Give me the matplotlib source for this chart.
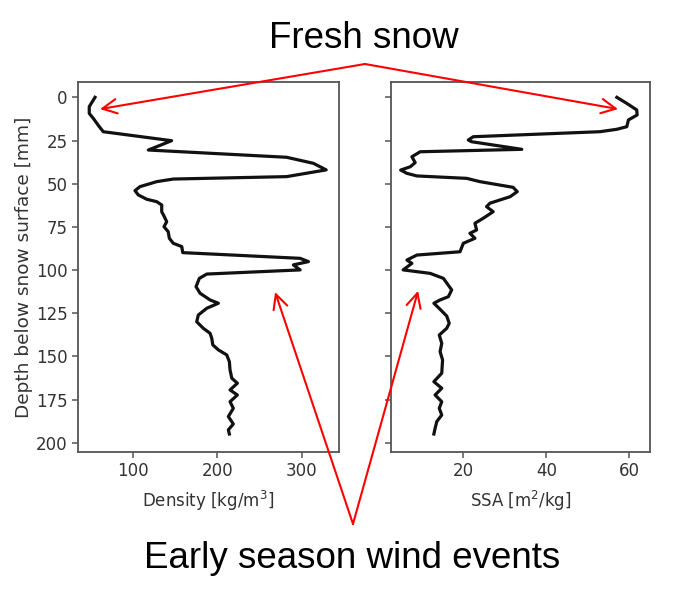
import matplotlib
matplotlib.use("Agg")
import matplotlib.pyplot as plt

# depth profiles
depth_rho = [0, 5.4, 9.3, 12.2, 17, 19.9, 25.1, 30.5, 34.7, 38.2, 42, 45.9, 47.3, 48.8,
             51.7, 54, 56.5, 59, 60.4, 62.3, 66.2, 69.1, 72, 74.9, 77.8, 81.6, 84.5, 86.4,
             89.9, 93.2, 95.1, 97.0, 99.9, 102.3, 104.8, 109.6, 113.4, 117.3, 119.2, 122.1,
             126, 129.9, 133.7, 136.6, 139.5, 143.3, 146.2, 149.1, 153, 157.8, 162.6, 165.5,
             169.4, 172.3, 176.2, 180, 184.8, 189.1, 192.5, 194.9]
density = [55.4, 48.6, 48.6, 53.4, 60.5, 65.2, 146, 118.5, 282, 313.7, 328.8, 282, 148, 128.4,
           108.6, 102.7, 106.6, 116.6, 128.4, 134.3, 134.3, 137.4, 140.2, 137, 142, 143.3, 148, 158,
           159.2, 298, 307.8, 290, 298, 187.6, 178.8, 174.9, 179.6, 191.5, 201.3, 187.6,
           177.6, 175.7, 183.5, 191.5, 193.5, 194.7, 201.3, 211.2, 214.3, 215.1, 217.2, 223.8,
           215.1, 223.8, 215.1, 219, 213.1, 219, 213.1, 214.3]

depth_ssa = [0, 3.5, 7.3, 10.2, 13.1, 17, 18.5, 19.9, 22.8, 24.7, 25.7, 30.1, 31.5, 34.4,
             37.8, 40.2, 42.1, 44, 45.5, 46.9, 48.8, 52.1, 54.6, 57.5, 61.3, 63.3, 66.2, 70,
             72.9, 76.8, 78.7, 81.6, 84.5, 89.4, 91.3, 94.2, 96.1, 99.9, 101.9, 104.8, 111.5,
             115.4, 117.3, 119.2, 122.7, 126.6, 130.8, 133.7, 137.6, 142.4, 147.2, 152.0,
             159.7, 164.6, 168.4, 172.3, 176.2, 180, 183.9, 187.7, 191.6, 194.9]
ssa = [57.0, 59.4, 61.8, 61.9, 59.8, 59.4, 57.0, 52.9, 22.4, 21.2, 22.0, 34.1, 9.6, 7.6,
       8.4, 7.2, 4.9, 6.4, 8.8, 20.8, 24.0, 32.0, 33.0, 31.3, 26.4, 25.6, 27.2, 24.8,
       22.8, 23.2, 21.6, 22.8, 20.0, 19.2, 8.8, 6.4, 7.6, 5.5, 12.0, 15.2, 17.2,
       16.4, 14.4, 12.9, 14.4, 16.0, 16.6, 16.0, 14.2, 14.8, 14.4, 15.0,
       14.8, 12.9, 14.8, 13.2, 14.8, 14.2, 14.8, 13.6, 13.2, 12.9]

y_ticks = [0, 25, 50, 75, 100, 125, 150, 175, 200]
rho_ticks = [100, 200, 300]
ssa_ticks = [20, 40, 60]

fig = plt.figure(figsize=(6.94, 6.0), dpi=100)
ax1 = fig.add_axes([0.1124, 0.2467, 0.3761, 0.6167])
ax2 = fig.add_axes([0.563, 0.2467, 0.3736, 0.6167], sharey=ax1)

ax1.plot(density, depth_rho, color='#111111', lw=2.3)
ax2.plot(ssa, depth_ssa, color='#111111', lw=2.3)

ax1.set_ylim(205.3, -8.9)
ax1.set_xlim(35.3, 344)
ax2.set_xlim(2.5, 65)
ax1.set_yticks(y_ticks)
ax1.set_xticks(rho_ticks)
ax2.set_xticks(ssa_ticks)
ax2.tick_params(labelleft=False)

for ax in (ax1, ax2):
    for s in ax.spines.values():
        s.set_color('#555555')
        s.set_linewidth(1.3)
    ax.tick_params(colors='#555555', labelcolor='#333333', labelsize=12, width=1.1, length=4)

ax1.set_xlabel('Density [kg/m$^3$]', fontsize=12, color='#333333', labelpad=6)
ax2.set_xlabel('SSA [m$^2$/kg]', fontsize=12, color='#333333', labelpad=6)
ax1.set_ylabel('Depth below snow surface [mm]', fontsize=13.3, color='#333333', labelpad=2)

fig.text(0.524, 0.92, 'Fresh snow', ha='center', va='baseline',
         fontsize=26.5, family='Liberation Sans')
fig.text(0.507, 0.0533, 'Early season wind events', ha='center', va='baseline',
         fontsize=26.5, family='Liberation Sans')

arrow = dict(arrowstyle='->', color='red', lw=1.5, mutation_scale=26, shrinkA=0, shrinkB=0)
top = (365 / 694, 1 - 64 / 600)
bottom = (353 / 694, 1 - 524 / 600)
ax1.annotate('', xy=(61.3, 6.8), xytext=top, textcoords='figure fraction',
             arrowprops=arrow, annotation_clip=False)
ax2.annotate('', xy=(57.3, 6.8), xytext=top, textcoords='figure fraction',
             arrowprops=arrow, annotation_clip=False)
ax1.annotate('', xy=(268.4, 112.7), xytext=bottom, textcoords='figure fraction',
             arrowprops=arrow, annotation_clip=False)
ax2.annotate('', xy=(9.1, 112), xytext=bottom, textcoords='figure fraction',
             arrowprops=arrow, annotation_clip=False)

fig.savefig('out.png', dpi=100)
